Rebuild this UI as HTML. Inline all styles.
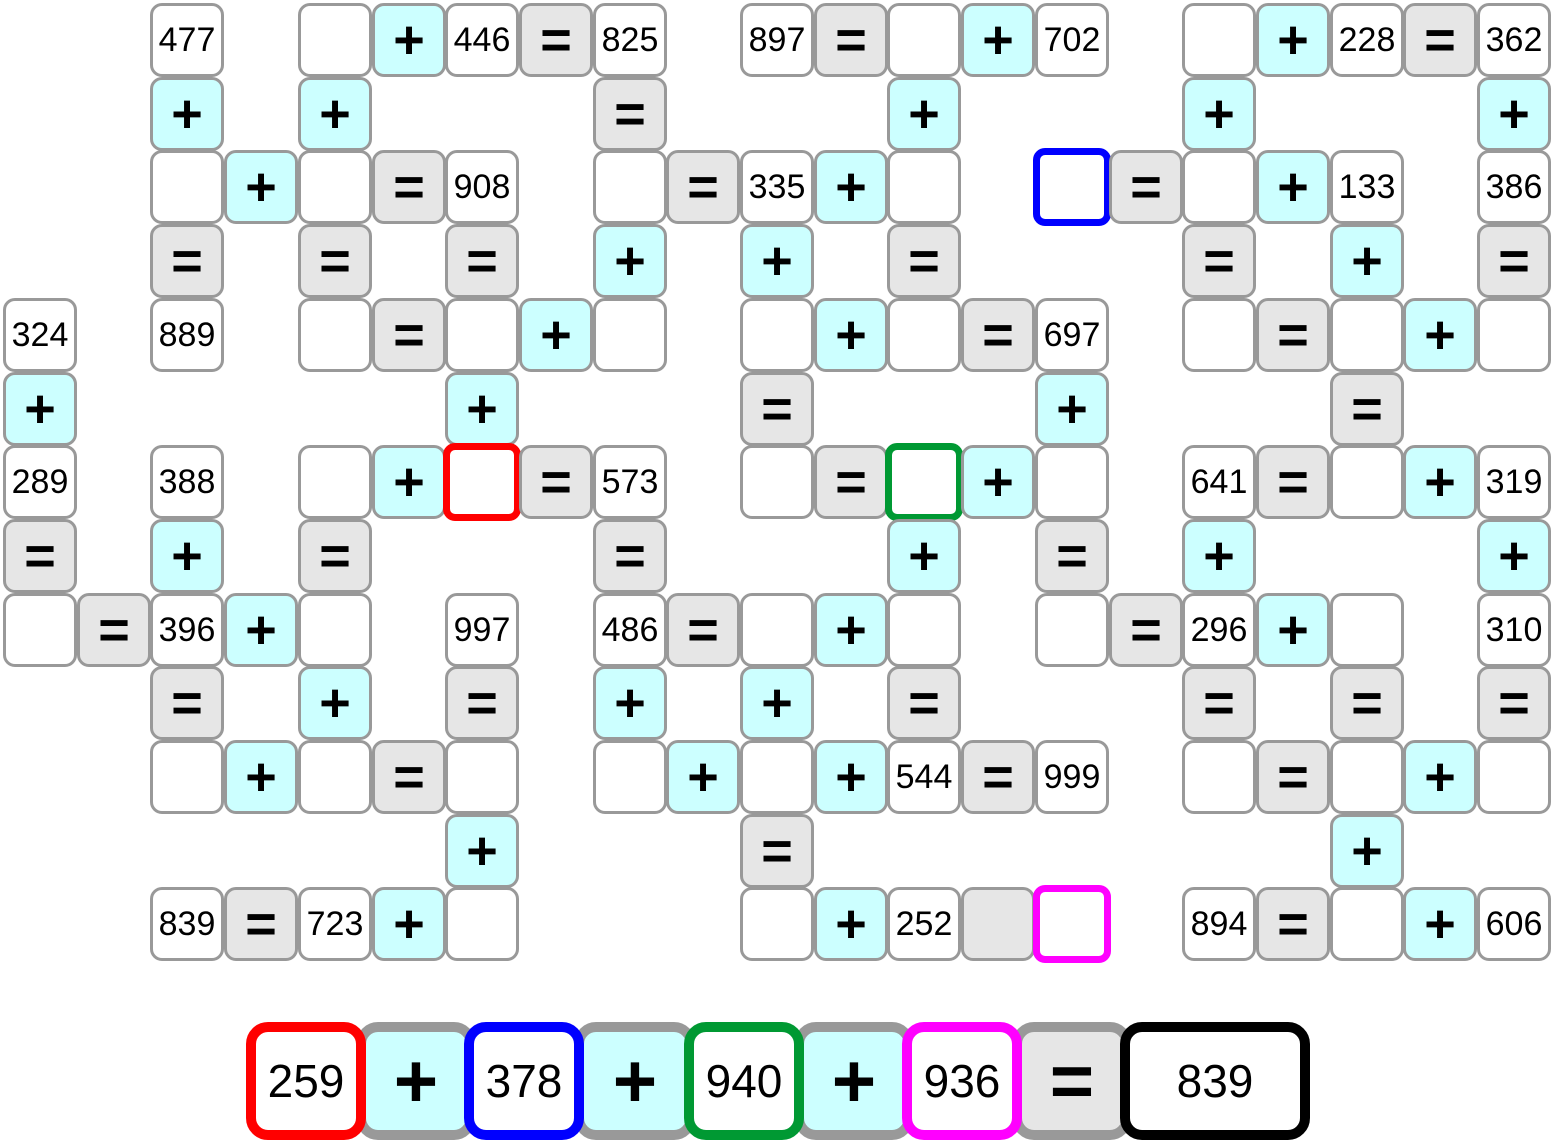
<!DOCTYPE html>
<html><head><meta charset="utf-8"><style>
html,body{margin:0;padding:0;background:#fff;}
body{width:1556px;height:1144px;position:relative;overflow:hidden;font-family:"Liberation Sans",sans-serif;}
.c{position:absolute;width:74px;height:74px;box-sizing:border-box;border:3px solid #999;border-radius:12px;background:#fff;display:flex;align-items:center;justify-content:center;font-size:34px;color:#000;}
.p{background:#ccffff;font-size:54px;font-weight:bold;}
.e{background:#e6e6e6;font-size:54px;font-weight:bold;}
.hl{border-width:7px;}
.b{position:absolute;top:1022px;height:118px;box-sizing:border-box;border:10px solid #999;border-radius:22px;display:flex;align-items:center;justify-content:center;font-size:46px;background:#fff;}
.bo{background:#ccffff;font-size:76px;font-weight:bold;border-color:#999;}
.be{background:#e6e6e6;font-size:76px;font-weight:bold;}
</style></head><body>
<!-- row 0 -->
<div class="c" style="left:150px;top:3px">477</div>
<div class="c" style="left:298px;top:3px"></div>
<div class="c p" style="left:372px;top:3px">+</div>
<div class="c" style="left:445px;top:3px">446</div>
<div class="c e" style="left:519px;top:3px">=</div>
<div class="c" style="left:593px;top:3px">825</div>
<div class="c" style="left:740px;top:3px">897</div>
<div class="c e" style="left:814px;top:3px">=</div>
<div class="c" style="left:887px;top:3px"></div>
<div class="c p" style="left:961px;top:3px">+</div>
<div class="c" style="left:1035px;top:3px">702</div>
<div class="c" style="left:1182px;top:3px"></div>
<div class="c p" style="left:1256px;top:3px">+</div>
<div class="c" style="left:1330px;top:3px">228</div>
<div class="c e" style="left:1403px;top:3px">=</div>
<div class="c" style="left:1477px;top:3px">362</div>
<!-- row 1 -->
<div class="c p" style="left:150px;top:77px">+</div>
<div class="c p" style="left:298px;top:77px">+</div>
<div class="c e" style="left:593px;top:77px">=</div>
<div class="c p" style="left:887px;top:77px">+</div>
<div class="c p" style="left:1182px;top:77px">+</div>
<div class="c p" style="left:1477px;top:77px">+</div>
<!-- row 2 -->
<div class="c" style="left:150px;top:150px"></div>
<div class="c p" style="left:224px;top:150px">+</div>
<div class="c" style="left:298px;top:150px"></div>
<div class="c e" style="left:372px;top:150px">=</div>
<div class="c" style="left:445px;top:150px">908</div>
<div class="c" style="left:593px;top:150px"></div>
<div class="c e" style="left:666px;top:150px">=</div>
<div class="c" style="left:740px;top:150px">335</div>
<div class="c p" style="left:814px;top:150px">+</div>
<div class="c" style="left:887px;top:150px"></div>
<div class="c hl" style="left:1033px;top:148px;width:78px;height:78px;border-color:#0000ff"></div>
<div class="c e" style="left:1109px;top:150px">=</div>
<div class="c" style="left:1182px;top:150px"></div>
<div class="c p" style="left:1256px;top:150px">+</div>
<div class="c" style="left:1330px;top:150px">133</div>
<div class="c" style="left:1477px;top:150px">386</div>
<!-- row 3 -->
<div class="c e" style="left:150px;top:224px">=</div>
<div class="c e" style="left:298px;top:224px">=</div>
<div class="c e" style="left:445px;top:224px">=</div>
<div class="c p" style="left:593px;top:224px">+</div>
<div class="c p" style="left:740px;top:224px">+</div>
<div class="c e" style="left:887px;top:224px">=</div>
<div class="c e" style="left:1182px;top:224px">=</div>
<div class="c p" style="left:1330px;top:224px">+</div>
<div class="c e" style="left:1477px;top:224px">=</div>
<!-- row 4 -->
<div class="c" style="left:3px;top:298px">324</div>
<div class="c" style="left:150px;top:298px">889</div>
<div class="c" style="left:298px;top:298px"></div>
<div class="c e" style="left:372px;top:298px">=</div>
<div class="c" style="left:445px;top:298px"></div>
<div class="c p" style="left:519px;top:298px">+</div>
<div class="c" style="left:593px;top:298px"></div>
<div class="c" style="left:740px;top:298px"></div>
<div class="c p" style="left:814px;top:298px">+</div>
<div class="c" style="left:887px;top:298px"></div>
<div class="c e" style="left:961px;top:298px">=</div>
<div class="c" style="left:1035px;top:298px">697</div>
<div class="c" style="left:1182px;top:298px"></div>
<div class="c e" style="left:1256px;top:298px">=</div>
<div class="c" style="left:1330px;top:298px"></div>
<div class="c p" style="left:1403px;top:298px">+</div>
<div class="c" style="left:1477px;top:298px"></div>
<!-- row 5 -->
<div class="c p" style="left:3px;top:372px">+</div>
<div class="c p" style="left:445px;top:372px">+</div>
<div class="c e" style="left:740px;top:372px">=</div>
<div class="c p" style="left:1035px;top:372px">+</div>
<div class="c e" style="left:1330px;top:372px">=</div>
<!-- row 6 -->
<div class="c" style="left:3px;top:445px">289</div>
<div class="c" style="left:150px;top:445px">388</div>
<div class="c" style="left:298px;top:445px"></div>
<div class="c p" style="left:372px;top:445px">+</div>
<div class="c hl" style="left:443px;top:443px;width:78px;height:78px;border-color:#ff0000"></div>
<div class="c e" style="left:519px;top:445px">=</div>
<div class="c" style="left:593px;top:445px">573</div>
<div class="c" style="left:740px;top:445px"></div>
<div class="c e" style="left:814px;top:445px">=</div>
<div class="c hl" style="left:885px;top:443px;width:78px;height:78px;border-color:#009933"></div>
<div class="c p" style="left:961px;top:445px">+</div>
<div class="c" style="left:1035px;top:445px"></div>
<div class="c" style="left:1182px;top:445px">641</div>
<div class="c e" style="left:1256px;top:445px">=</div>
<div class="c" style="left:1330px;top:445px"></div>
<div class="c p" style="left:1403px;top:445px">+</div>
<div class="c" style="left:1477px;top:445px">319</div>
<!-- row 7 -->
<div class="c e" style="left:3px;top:519px">=</div>
<div class="c p" style="left:150px;top:519px">+</div>
<div class="c e" style="left:298px;top:519px">=</div>
<div class="c e" style="left:593px;top:519px">=</div>
<div class="c p" style="left:887px;top:519px">+</div>
<div class="c e" style="left:1035px;top:519px">=</div>
<div class="c p" style="left:1182px;top:519px">+</div>
<div class="c p" style="left:1477px;top:519px">+</div>
<!-- row 8 -->
<div class="c" style="left:3px;top:593px"></div>
<div class="c e" style="left:77px;top:593px">=</div>
<div class="c" style="left:150px;top:593px">396</div>
<div class="c p" style="left:224px;top:593px">+</div>
<div class="c" style="left:298px;top:593px"></div>
<div class="c" style="left:445px;top:593px">997</div>
<div class="c" style="left:593px;top:593px">486</div>
<div class="c e" style="left:666px;top:593px">=</div>
<div class="c" style="left:740px;top:593px"></div>
<div class="c p" style="left:814px;top:593px">+</div>
<div class="c" style="left:887px;top:593px"></div>
<div class="c" style="left:1035px;top:593px"></div>
<div class="c e" style="left:1109px;top:593px">=</div>
<div class="c" style="left:1182px;top:593px">296</div>
<div class="c p" style="left:1256px;top:593px">+</div>
<div class="c" style="left:1330px;top:593px"></div>
<div class="c" style="left:1477px;top:593px">310</div>
<!-- row 9 -->
<div class="c e" style="left:150px;top:666px">=</div>
<div class="c p" style="left:298px;top:666px">+</div>
<div class="c e" style="left:445px;top:666px">=</div>
<div class="c p" style="left:593px;top:666px">+</div>
<div class="c p" style="left:740px;top:666px">+</div>
<div class="c e" style="left:887px;top:666px">=</div>
<div class="c e" style="left:1182px;top:666px">=</div>
<div class="c e" style="left:1330px;top:666px">=</div>
<div class="c e" style="left:1477px;top:666px">=</div>
<!-- row 10 -->
<div class="c" style="left:150px;top:740px"></div>
<div class="c p" style="left:224px;top:740px">+</div>
<div class="c" style="left:298px;top:740px"></div>
<div class="c e" style="left:372px;top:740px">=</div>
<div class="c" style="left:445px;top:740px"></div>
<div class="c" style="left:593px;top:740px"></div>
<div class="c p" style="left:666px;top:740px">+</div>
<div class="c" style="left:740px;top:740px"></div>
<div class="c p" style="left:814px;top:740px">+</div>
<div class="c" style="left:887px;top:740px">544</div>
<div class="c e" style="left:961px;top:740px">=</div>
<div class="c" style="left:1035px;top:740px">999</div>
<div class="c" style="left:1182px;top:740px"></div>
<div class="c e" style="left:1256px;top:740px">=</div>
<div class="c" style="left:1330px;top:740px"></div>
<div class="c p" style="left:1403px;top:740px">+</div>
<div class="c" style="left:1477px;top:740px"></div>
<!-- row 11 -->
<div class="c p" style="left:445px;top:814px">+</div>
<div class="c e" style="left:740px;top:814px">=</div>
<div class="c p" style="left:1330px;top:814px">+</div>
<!-- row 12 -->
<div class="c" style="left:150px;top:887px">839</div>
<div class="c e" style="left:224px;top:887px">=</div>
<div class="c" style="left:298px;top:887px">723</div>
<div class="c p" style="left:372px;top:887px">+</div>
<div class="c" style="left:445px;top:887px"></div>
<div class="c" style="left:740px;top:887px"></div>
<div class="c p" style="left:814px;top:887px">+</div>
<div class="c" style="left:887px;top:887px">252</div>
<div class="c e" style="left:961px;top:887px"></div>
<div class="c hl" style="left:1033px;top:885px;width:78px;height:78px;border-color:#ff00ff"></div>
<div class="c" style="left:1182px;top:887px">894</div>
<div class="c e" style="left:1256px;top:887px">=</div>
<div class="c" style="left:1330px;top:887px"></div>
<div class="c p" style="left:1403px;top:887px">+</div>
<div class="c" style="left:1477px;top:887px">606</div>
<!-- bottom -->
<div class="b bo" style="left:356px;width:120px">+</div>
<div class="b bo" style="left:574px;width:122px">+</div>
<div class="b bo" style="left:794px;width:120px">+</div>
<div class="b be" style="left:1012px;width:120px">=</div>
<div class="b" style="left:246px;width:120px;border-color:#ff0000">259</div>
<div class="b" style="left:464px;width:120px;border-color:#0000ff">378</div>
<div class="b" style="left:684px;width:120px;border-color:#009933">940</div>
<div class="b" style="left:902px;width:120px;border-color:#ff00ff">936</div>
<div class="b" style="left:1120px;width:190px;border-color:#000">839</div>
</body></html>
